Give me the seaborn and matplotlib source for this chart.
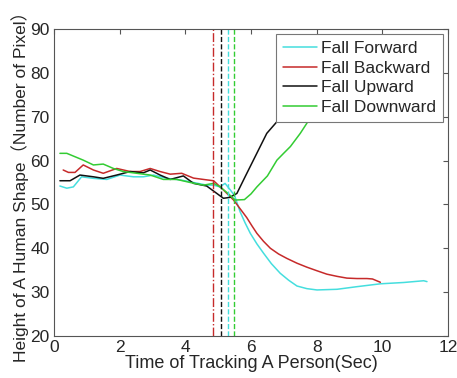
import numpy as np
import pandas as pd
import matplotlib
matplotlib.use("Agg")
import matplotlib.pyplot as plt
import seaborn as sns

# values
fwd_t = [0.18, 0.39, 0.59, 0.84, 1.2, 1.61, 2.01, 2.42, 2.72, 3.03, 3.44, 3.84, 4.25, 4.65, 4.86,
         5.05, 5.21, 5.37, 5.5, 5.67, 5.82, 5.98, 6.18, 6.38, 6.62, 6.89, 7.15, 7.4, 7.7, 8.01, 8.62,
         9.23, 9.94, 10.65, 11.26, 11.36]
fwd_h = [54.2, 53.7, 54.0, 56.3, 55.95, 55.7, 56.7, 56.3, 56.3, 56.7, 55.95, 55.6, 55.0, 54.4, 54.4,
         54.0, 54.8, 53.3, 52.0, 48.3, 45.8, 43.4, 41.0, 38.9, 36.5, 34.3, 32.7, 31.4, 30.8, 30.5, 30.65,
         31.25, 31.9, 32.2, 32.6, 32.4]

bwd_t = [0.28, 0.44, 0.64, 0.89, 1.2, 1.5, 1.91, 2.32, 2.62, 2.93, 3.23, 3.54, 3.89, 4.25, 4.65, 4.86,
         5.16, 5.47, 5.67, 5.87, 6.03, 6.18, 6.38, 6.59, 6.84, 7.09, 7.4, 7.7, 8.0, 8.31, 8.62, 8.92,
         9.23, 9.53, 9.7, 9.94]
bwd_h = [57.85, 57.3, 57.3, 59.0, 57.85, 57.1, 58.2, 57.5, 57.5, 58.2, 57.5, 56.9, 57.1, 56.0, 55.6, 55.4,
         53.3, 51.0, 49.0, 47.0, 45.1, 43.4, 41.6, 40.0, 38.7, 37.7, 36.6, 35.7, 34.9, 34.1, 33.6, 33.2,
         33.1, 33.1, 33.0, 32.25]

up_t = [0.18, 0.49, 0.79, 1.2, 1.5, 1.91, 2.32, 2.72, 2.93, 3.23, 3.54, 3.94, 4.25, 4.65, 4.96,
        5.16, 5.35, 5.57, 5.82, 6.0, 6.18, 6.48, 6.84, 7.2, 7.6]
up_h = [55.4, 55.4, 56.7, 56.3, 55.95, 56.7, 57.5, 57.2, 57.85, 56.7, 55.7, 56.5, 54.8, 54.2, 52.5,
        51.4, 51.6, 52.5, 56.3, 59.0, 61.7, 66.2, 69.3, 74.0, 79.0]

down_t = [0.18, 0.39, 0.89, 1.2, 1.5, 1.81, 2.11, 2.52, 2.93, 3.33, 3.74, 4.15, 4.55, 4.86, 5.06,
          5.3, 5.52, 5.8, 6.0, 6.18, 6.5, 6.79, 7.0, 7.2, 7.5, 7.7, 8.0]
down_h = [61.65, 61.65, 60.1, 59.0, 59.2, 58.2, 57.5, 57.1, 56.7, 55.7, 55.7, 55.0, 54.4, 54.8, 54.0,
          52.5, 51.0, 51.1, 52.4, 54.0, 56.5, 60.1, 61.7, 63.2, 66.2, 68.5, 73.0]

fall_times = [4.84, 5.08, 5.29, 5.49]

labels = ["Fall Forward", "Fall Backward", "Fall Upward", "Fall Downward"]
colors = ["#45dede", "#c62a2a", "#111111", "#33cc33"]
vstyles = ["-.", "--", "--", "--"]

sns.set_style("white")
plt.rcParams["font.family"] = ["Liberation Sans", "Noto Sans CJK SC", "DejaVu Sans"]

fig = plt.figure(figsize=(4.57, 3.78), dpi=100)
ax = fig.add_axes([54 / 457, 1 - 336 / 378, (448 - 54) / 457, (336 - 29) / 378])

series = [(fwd_t, fwd_h), (bwd_t, bwd_h), (up_t, up_h), (down_t, down_h)]
for (t, h), lab, col in zip(series, labels, colors):
    df = pd.DataFrame({"t": t, "h": h})
    sns.lineplot(data=df, x="t", y="h", color=col, lw=1.1, label=lab, ax=ax, sort=False)

# fall moment markers: red, black, cyan, green
for xv, col, ls in zip(fall_times, [colors[1], colors[2], colors[0], colors[3]], vstyles):
    ax.axvline(xv, color=col, ls=ls, lw=1.0)

ax.set_xlim(0, 12)
ax.set_ylim(20, 90)
ax.set_xticks(np.arange(0, 13, 2))
ax.set_yticks(np.arange(20, 91, 10))
ax.tick_params(direction="in", top=True, right=True, length=3.5, labelsize=12.5,
               color="#555555", pad=3)
for s in ax.spines.values():
    s.set_color("#555555")
    s.set_linewidth(0.8)

ax.set_xlabel("Time of Tracking A Person(Sec)", fontsize=13, labelpad=0)
ax.set_ylabel("Height of A Human Shape（Number of Pixel）", fontsize=12.5, labelpad=1)

leg = ax.legend(loc="upper right", fontsize=12.5, frameon=True, fancybox=False,
                handlelength=1.95, handletextpad=0.25, borderpad=0.4, labelspacing=0.25,
                borderaxespad=0.3)
leg.get_frame().set_edgecolor("#777777")
leg.get_frame().set_linewidth(0.8)
leg.get_frame().set_alpha(1.0)

fig.savefig("out.png", dpi=100)
